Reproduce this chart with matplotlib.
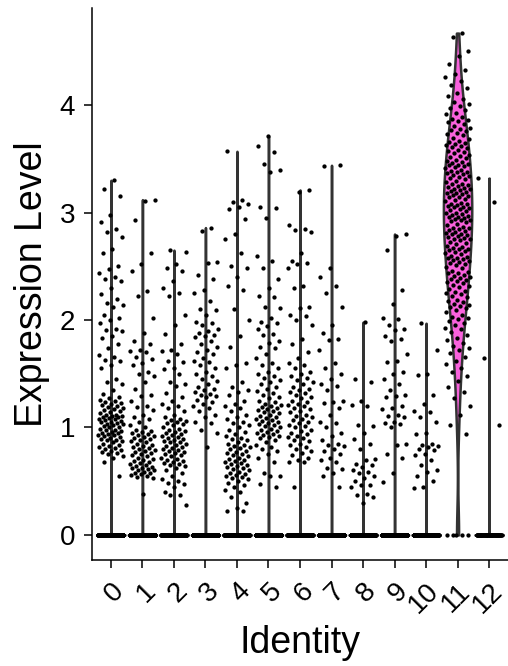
import matplotlib
matplotlib.use("Agg")
import matplotlib.pyplot as plt
import numpy as np

plt.rcParams["font.family"] = ["Liberation Sans", "DejaVu Sans"]

# cluster identities and colours (ggplot hue palette, 13 groups)
identities = ["0", "1", "2", "3", "4", "5", "6", "7", "8", "9", "10", "11", "12"]
colors = ["#F8766D", "#E18A00", "#BE9C00", "#8CAB00", "#24B700", "#00BE70", "#00C1AB",
          "#00BBDA", "#00ACFC", "#8B93FF", "#D575FE", "#F962DD", "#FF65AC"]

# cells with zero expression in each cluster
zero_counts = [600, 550, 500, 480, 450, 420, 400, 350, 300, 280, 250, 5, 60]

# non-zero expression values
c0 = [3.30, 3.22, 3.15, 2.98, 2.91, 2.85, 2.82, 2.77, 2.66, 2.62, 2.50, 2.47, 2.44, 2.40, 2.38,
      2.36, 2.30, 2.24, 2.20, 2.16, 2.14, 2.12, 2.05, 2.02, 2.00, 1.97, 1.92, 1.91, 1.90, 1.85,
      1.83, 1.78, 1.74, 1.67, 1.66, 1.63, 1.62, 1.58, 1.55, 1.45, 1.42, 1.40, 1.35, 1.31, 1.28,
      1.27, 1.26, 1.25, 1.24, 1.23, 1.22, 1.21, 1.20, 1.19, 1.18, 1.17, 1.16, 1.15, 1.14, 1.13,
      1.12, 1.12, 1.11, 1.11, 1.10, 1.10, 1.09, 1.08, 1.08, 1.07, 1.06, 1.05, 1.05, 1.04, 1.03,
      1.03, 1.02, 1.01, 1.00, 1.00, 0.99, 0.98, 0.98, 0.97, 0.96, 0.95, 0.95, 0.94, 0.93, 0.93,
      0.92, 0.91, 0.90, 0.89, 0.88, 0.88, 0.87, 0.86, 0.85, 0.84, 0.83, 0.82, 0.81, 0.80, 0.79,
      0.78, 0.77, 0.76, 0.75, 0.73, 0.72, 0.68, 0.55]
c1 = [3.12, 3.11, 2.93, 2.62, 2.52, 2.46, 2.27, 2.22, 2.02, 1.88, 1.80, 1.78, 1.72, 1.71, 1.70,
      1.66, 1.64, 1.60, 1.58, 1.52, 1.50, 1.48, 1.42, 1.36, 1.30, 1.29, 1.25, 1.20, 1.19, 1.16,
      1.12, 1.10, 1.08, 1.05, 1.02, 1.00, 0.98, 0.97, 0.96, 0.95, 0.94, 0.93, 0.92, 0.91, 0.90,
      0.89, 0.88, 0.87, 0.86, 0.85, 0.84, 0.83, 0.82, 0.81, 0.80, 0.79, 0.78, 0.77, 0.76, 0.75,
      0.74, 0.73, 0.72, 0.71, 0.70, 0.69, 0.68, 0.67, 0.66, 0.65, 0.64, 0.63, 0.62, 0.62, 0.61,
      0.60, 0.60, 0.59, 0.58, 0.58, 0.57, 0.56, 0.55, 0.54, 0.53, 0.38]
c2 = [2.65, 2.63, 2.52, 2.48, 2.46, 2.36, 2.30, 2.25, 2.22, 2.05, 1.95, 1.87, 1.78, 1.72, 1.71,
      1.68, 1.62, 1.61, 1.55, 1.54, 1.50, 1.42, 1.40, 1.39, 1.32, 1.28, 1.25, 1.22, 1.20, 1.18,
      1.15, 1.12, 1.10, 1.08, 1.07, 1.06, 1.05, 1.04, 1.03, 1.02, 1.00, 0.99, 0.98, 0.97, 0.96,
      0.95, 0.94, 0.93, 0.92, 0.91, 0.90, 0.89, 0.88, 0.87, 0.86, 0.86, 0.85, 0.84, 0.83, 0.82,
      0.81, 0.80, 0.79, 0.78, 0.77, 0.76, 0.75, 0.74, 0.73, 0.72, 0.71, 0.70, 0.69, 0.68, 0.67,
      0.66, 0.65, 0.64, 0.62, 0.60, 0.58, 0.55, 0.52, 0.50, 0.48, 0.47, 0.45, 0.40, 0.37, 0.37,
      0.28]
c3 = [2.86, 2.83, 2.54, 2.53, 2.42, 2.38, 2.28, 2.25, 2.18, 2.10, 2.09, 2.05, 1.98, 1.97, 1.95,
      1.92, 1.90, 1.88, 1.86, 1.85, 1.84, 1.80, 1.78, 1.75, 1.72, 1.70, 1.68, 1.65, 1.62, 1.61,
      1.58, 1.55, 1.52, 1.50, 1.48, 1.45, 1.43, 1.40, 1.38, 1.36, 1.35, 1.33, 1.31, 1.30, 1.29,
      1.28, 1.26, 1.24, 1.22, 1.20, 1.18, 1.15, 1.12, 1.10, 1.05, 1.04, 0.98, 0.95, 0.82]
c4 = [3.57, 3.12, 3.10, 3.08, 3.05, 3.03, 2.94, 2.80, 2.75, 2.62, 2.50, 2.48, 2.40, 2.32, 2.28,
      2.10, 2.00, 1.85, 1.75, 1.60, 1.58, 1.55, 1.42, 1.38, 1.35, 1.33, 1.30, 1.25, 1.22, 1.20,
      1.18, 1.15, 1.12, 1.10, 1.08, 1.05, 1.04, 1.02, 1.00, 0.98, 0.96, 0.94, 0.92, 0.90, 0.89,
      0.88, 0.86, 0.85, 0.84, 0.83, 0.82, 0.81, 0.80, 0.78, 0.77, 0.76, 0.75, 0.74, 0.73, 0.72,
      0.71, 0.70, 0.69, 0.68, 0.67, 0.66, 0.65, 0.64, 0.63, 0.62, 0.61, 0.60, 0.59, 0.58, 0.57,
      0.56, 0.55, 0.54, 0.53, 0.52, 0.50, 0.48, 0.46, 0.45, 0.42, 0.40, 0.35, 0.30, 0.25, 0.22,
      0.22]
c5 = [3.71, 3.62, 3.56, 3.45, 3.40, 3.38, 3.05, 3.04, 2.95, 2.60, 2.55, 2.48, 2.38, 2.30, 2.22,
      2.21, 2.12, 2.11, 2.02, 1.98, 1.97, 1.94, 1.92, 1.87, 1.86, 1.80, 1.79, 1.75, 1.74, 1.68,
      1.65, 1.60, 1.58, 1.55, 1.52, 1.50, 1.48, 1.46, 1.44, 1.42, 1.40, 1.38, 1.36, 1.34, 1.32,
      1.30, 1.28, 1.27, 1.25, 1.24, 1.22, 1.21, 1.20, 1.19, 1.18, 1.17, 1.16, 1.15, 1.14, 1.13,
      1.12, 1.11, 1.10, 1.09, 1.08, 1.07, 1.06, 1.05, 1.04, 1.03, 1.02, 1.01, 1.00, 0.99, 0.98,
      0.97, 0.96, 0.95, 0.94, 0.93, 0.92, 0.91, 0.90, 0.88, 0.86, 0.84, 0.82, 0.80, 0.78, 0.75,
      0.72, 0.68, 0.58, 0.55, 0.55, 0.47, 0.45]
c6 = [3.21, 3.19, 2.88, 2.85, 2.84, 2.82, 2.62, 2.55, 2.53, 2.52, 2.48, 2.32, 2.30, 2.12, 2.11,
      2.05, 2.04, 2.00, 1.95, 1.82, 1.78, 1.70, 1.65, 1.60, 1.58, 1.55, 1.52, 1.50, 1.48, 1.46,
      1.44, 1.42, 1.40, 1.38, 1.36, 1.35, 1.33, 1.32, 1.30, 1.28, 1.27, 1.25, 1.24, 1.22, 1.21,
      1.20, 1.18, 1.17, 1.15, 1.14, 1.12, 1.11, 1.10, 1.08, 1.07, 1.05, 1.04, 1.02, 1.01, 1.00,
      0.98, 0.97, 0.95, 0.94, 0.92, 0.91, 0.90, 0.88, 0.87, 0.85, 0.84, 0.82, 0.80, 0.78, 0.76,
      0.74, 0.72, 0.70, 0.68, 0.68, 0.45]
c7 = [3.43, 3.44, 2.48, 2.40, 2.32, 2.25, 2.12, 1.95, 1.88, 1.82, 1.81, 1.72, 1.60, 1.55, 1.50,
      1.45, 1.40, 1.39, 1.35, 1.25, 1.24, 1.23, 1.18, 1.12, 1.05, 1.04, 1.00, 0.95, 0.92, 0.88,
      0.85, 0.84, 0.83, 0.80, 0.78, 0.75, 0.72, 0.70, 0.68, 0.62, 0.61, 0.58, 0.55, 0.45]
c8 = [1.98, 1.45, 1.42, 1.25, 1.21, 1.20, 1.02, 1.01, 0.95, 0.89, 0.85, 0.80, 0.71, 0.70, 0.66,
      0.65, 0.63, 0.60, 0.59, 0.58, 0.55, 0.53, 0.50, 0.46, 0.46, 0.45, 0.38, 0.37, 0.35, 0.30]
c9 = [2.80, 2.78, 2.65, 2.28, 2.15, 2.02, 2.01, 1.95, 1.92, 1.91, 1.85, 1.82, 1.80, 1.68, 1.62,
      1.61, 1.52, 1.50, 1.45, 1.40, 1.35, 1.30, 1.29, 1.28, 1.20, 1.18, 1.17, 1.12, 1.11, 1.10,
      1.05, 1.04, 1.03, 1.00, 0.85, 0.84, 0.75, 0.72, 0.58, 0.49]
c10 = [1.97, 1.72, 1.50, 1.49, 1.30, 1.22, 1.15, 1.14, 1.10, 1.05, 0.95, 0.94, 0.85, 0.84, 0.83,
       0.82, 0.80, 0.79, 0.75, 0.74, 0.70, 0.65, 0.60, 0.59, 0.55, 0.50, 0.45, 0.44]
c11 = [4.67, 4.63, 4.50, 4.46, 4.38, 4.33, 4.29, 4.26, 4.22, 4.19, 4.16, 4.11,
       4.08, 4.06, 4.03, 4.01, 3.99, 3.97, 3.95, 3.93, 3.92, 3.89, 3.87, 3.86, 3.85,
       3.84, 3.82, 3.81, 3.79, 3.78, 3.77, 3.76, 3.74, 3.73, 3.72, 3.69, 3.68, 3.67, 3.66, 3.65,
       3.64, 3.63, 3.62, 3.61, 3.60, 3.58, 3.57, 3.56, 3.55, 3.54, 3.53, 3.52, 3.51, 3.49, 3.48,
       3.47, 3.46, 3.45, 3.44, 3.44, 3.43, 3.42, 3.41, 3.40, 3.39, 3.38, 3.38, 3.37, 3.36, 3.35,
       3.34, 3.33, 3.32, 3.31, 3.29, 3.28, 3.27, 3.27, 3.26, 3.25, 3.24, 3.23, 3.22, 3.22, 3.21,
       3.20, 3.19, 3.18, 3.18, 3.17, 3.16, 3.15, 3.14, 3.14, 3.13, 3.12, 3.11, 3.09, 3.08, 3.08,
       3.07, 3.06, 3.05, 3.05, 3.04, 3.03, 3.02, 3.01, 3.00, 3.00, 2.99, 2.98, 2.97, 2.96, 2.96,
       2.95, 2.94, 2.93, 2.93, 2.92, 2.91, 2.89, 2.88, 2.87, 2.86, 2.86, 2.85, 2.84, 2.83, 2.82,
       2.81, 2.80, 2.80, 2.79, 2.78, 2.77, 2.76, 2.75, 2.75, 2.74, 2.73, 2.72, 2.71, 2.69, 2.68,
       2.67, 2.66, 2.66, 2.65, 2.64, 2.63, 2.62, 2.61, 2.60, 2.59, 2.58, 2.58, 2.57, 2.56, 2.55,
       2.54, 2.53, 2.52, 2.51, 2.49, 2.48, 2.46, 2.45, 2.44, 2.44, 2.42, 2.41, 2.40, 2.39, 2.38,
       2.37, 2.36, 2.35, 2.34, 2.33, 2.32, 2.31, 2.29, 2.27, 2.26, 2.25, 2.24, 2.22, 2.21, 2.19,
       2.18, 2.17, 2.15, 2.14, 2.13, 2.12, 2.11, 2.09, 2.07, 2.05, 2.03, 2.02, 2.01, 1.99, 1.97,
       1.95, 1.93, 1.92, 1.89, 1.86, 1.83, 1.81, 1.79, 1.76, 1.74, 1.72, 1.69, 1.66, 1.62, 1.59,
       1.55, 1.52, 1.48, 1.43, 1.38, 1.33, 1.27, 1.20, 1.12, 1.02, 0.94]
c12 = [3.32, 3.10, 1.65, 1.02]

nonzero = [c0, c1, c2, c3, c4, c5, c6, c7, c8, c9, c10, c11, c12]


def violin_shape(vals, half_width=0.45):
    # gaussian density, bw.nrd0 style, trimmed to the data range
    vals = np.asarray(vals, dtype=float)
    n = len(vals)
    sd = vals.std(ddof=1)
    q25, q75 = np.percentile(vals, [25, 75])
    iqr = q75 - q25
    lo = min(sd, iqr / 1.34) if iqr > 0 else 1e-5
    bw = 0.9 * lo * n ** -0.2
    grid = np.linspace(vals.min(), vals.max(), 512)
    dens = np.exp(-0.5 * ((grid[:, None] - vals[None, :]) / bw) ** 2).sum(axis=1)
    return grid, dens / dens.max() * half_width


fig = plt.figure(figsize=(5.08, 6.66), dpi=100)
ax = fig.add_axes([92 / 508, 106 / 666, 416 / 508, 552 / 666])

for k, (vals, nz) in enumerate(zip(nonzero, zero_counts)):
    allv = np.concatenate([np.zeros(nz), np.asarray(vals)])
    grid, w = violin_shape(allv)
    ax.fill_betweenx(grid, k - w, k + w, facecolor=colors[k], edgecolor="#333333",
                     linewidth=1.8, zorder=1)

for k, (vals, nz) in enumerate(zip(nonzero, zero_counts)):
    allv = np.concatenate([np.asarray(vals), np.zeros(nz)])
    idx = np.arange(len(allv))
    off = ((idx + 1) * 0.6180339887 + k * 0.37) % 1.0
    xs = k + (off - 0.5) * 0.8
    ax.scatter(xs, allv, s=9.5, c="black", linewidths=0, zorder=3)

ymax = max(max(v) for v in nonzero)
ax.set_ylim(-0.05 * ymax, 1.05 * ymax)
ax.set_xlim(-0.6, len(identities) - 0.4)

ax.set_xticks(range(len(identities)))
ax.set_xticklabels(identities)
ax.set_yticks([0, 1, 2, 3, 4])
for s in ["top", "right"]:
    ax.spines[s].set_visible(False)
for s in ["left", "bottom"]:
    ax.spines[s].set_linewidth(1.1)
ax.tick_params(axis="both", labelsize=20, length=6, width=1.1, colors="black")
ax.tick_params(axis="y", pad=6)
ax.tick_params(axis="x", pad=7)
plt.setp(ax.get_xticklabels(), rotation=45, ha="right", va="top", rotation_mode="anchor")

ax.set_ylabel("Expression Level", fontsize=27)
ax.set_xlabel("Identity", fontsize=27)
ax.yaxis.set_label_coords(-0.101, 0.5)
ax.xaxis.set_label_coords(0.5, -0.118)

fig.savefig("out.png", dpi=100)
